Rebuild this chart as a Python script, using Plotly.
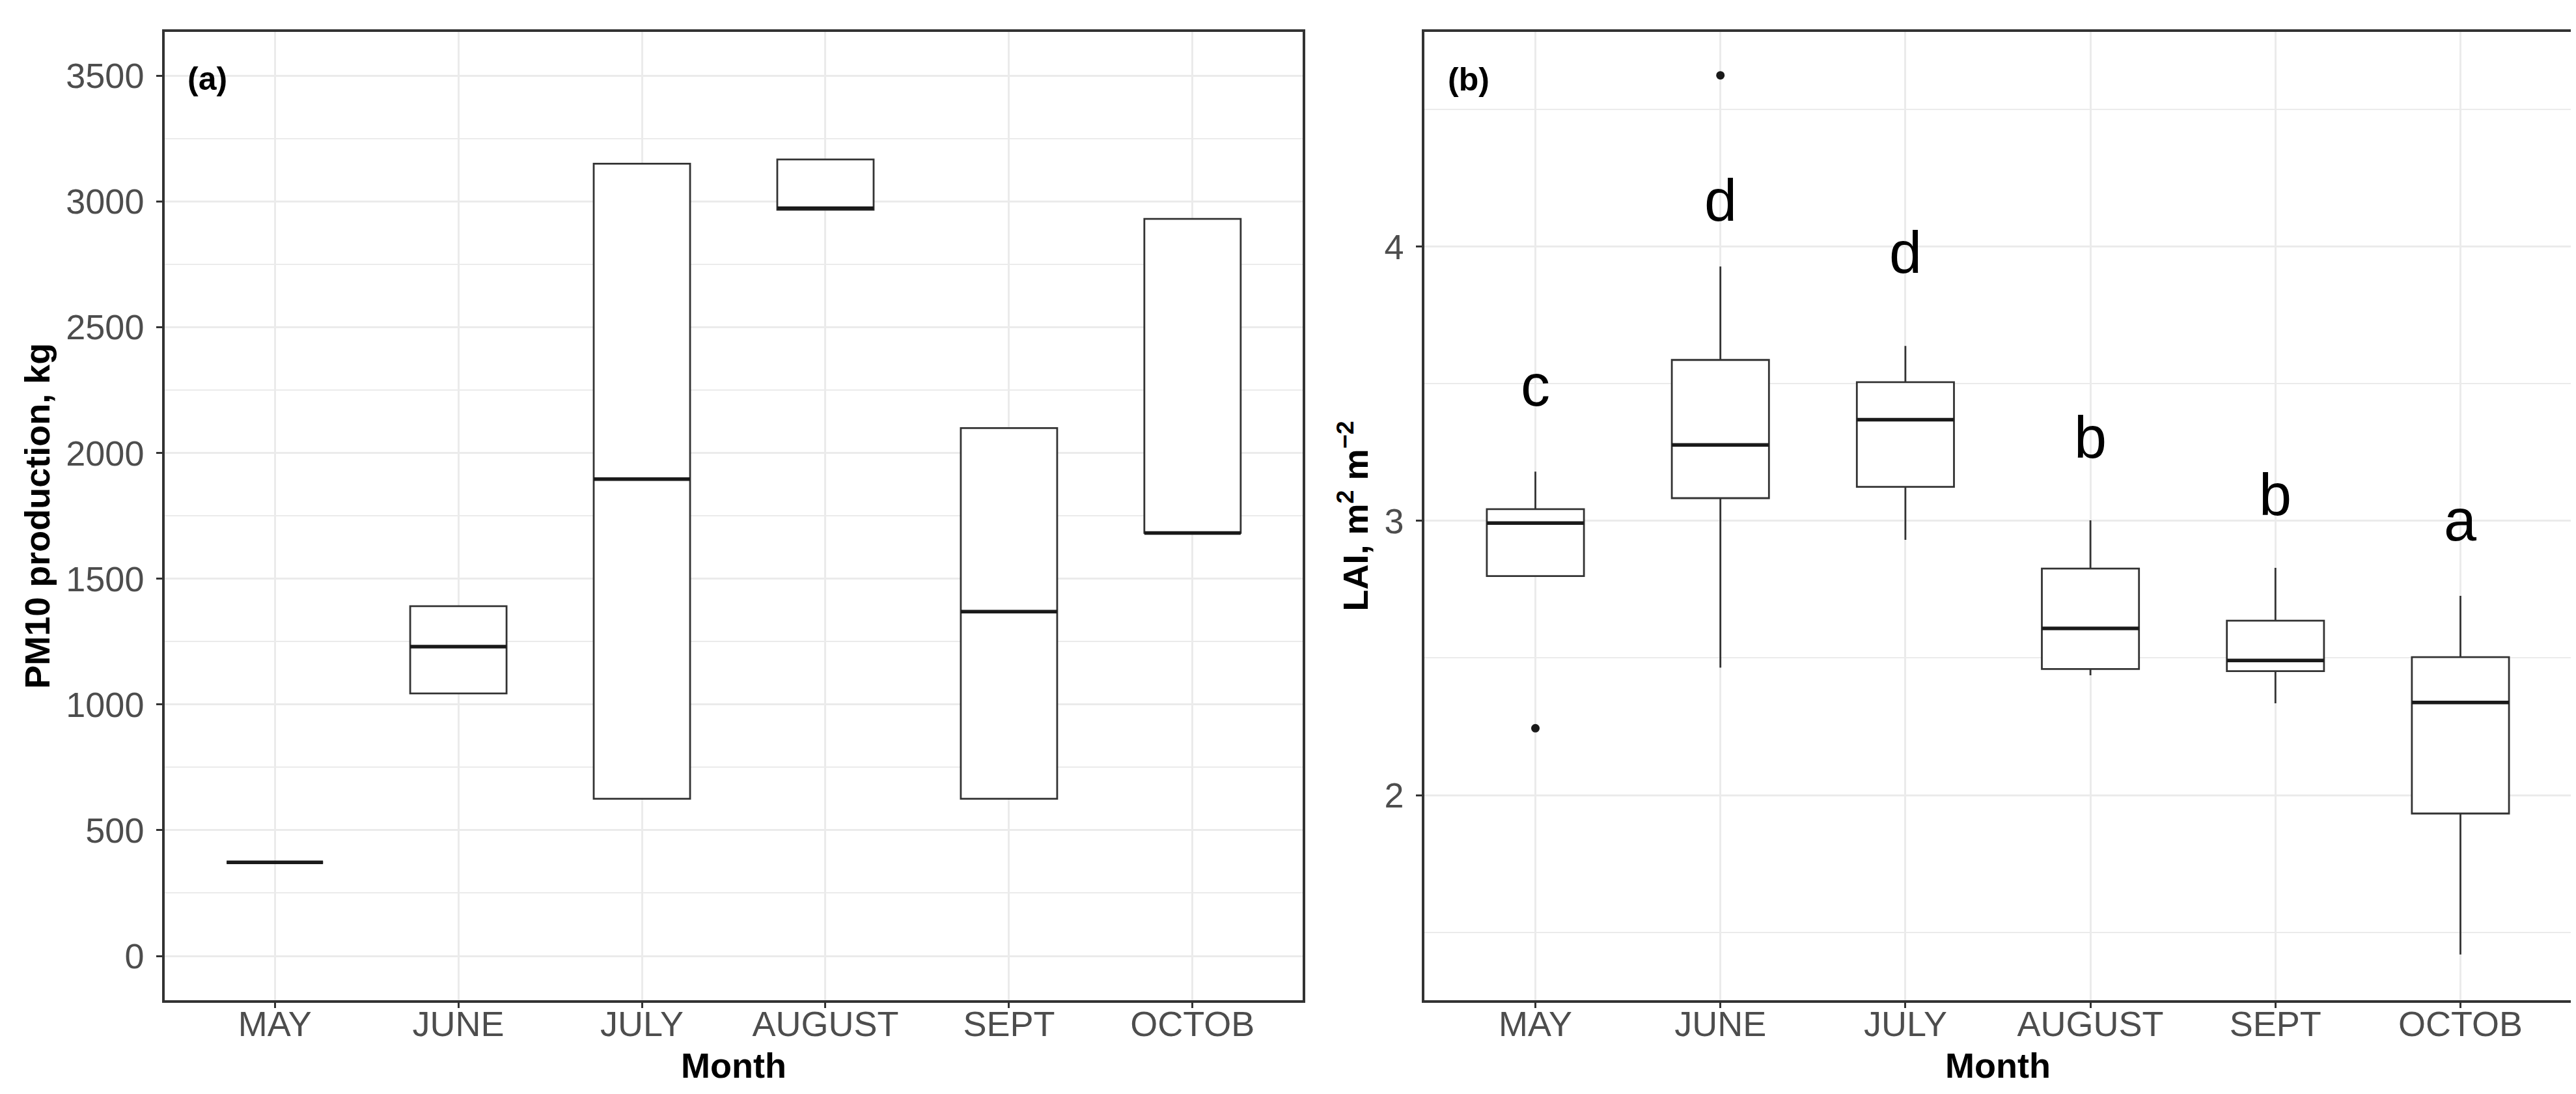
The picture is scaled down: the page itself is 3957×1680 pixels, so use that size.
import plotly.graph_objects as go

# ---------------- data ----------------
months = ["MAY", "JUNE", "JULY", "AUGUST", "SEPT", "OCTOB"]

# Panel (a): PM10 production, kg
pm_q1 = [372, 1044, 625, 2967, 625, 1682]
pm_median = [372, 1230, 1896, 2973, 1369, 1682]
pm_q3 = [372, 1391, 3150, 3167, 2099, 2931]

# Panel (b): LAI, m2 m-2
lai_low = [2.80, 2.465, 2.931, 2.437, 2.335, 1.419]
lai_q1 = [2.799, 3.083, 3.124, 2.460, 2.452, 1.933]
lai_median = [2.992, 3.277, 3.369, 2.608, 2.491, 2.338]
lai_q3 = [3.043, 3.587, 3.506, 2.826, 2.636, 2.503]
lai_high = [3.180, 3.928, 3.638, 3.002, 2.829, 2.727]

lai_outlier_month = ["MAY", "JUNE"]
lai_outlier_value = [2.244, 4.625]

letters = ["c", "d", "d", "b", "b", "a"]
letter_y = [3.404, 4.077, 3.887, 3.213, 3.004, 2.913]

# ---------------- style ----------------
W, H = 3957, 1680
FONT = "Liberation Sans, Arial, Helvetica, sans-serif"
BOX_LINE = "#333333"
MED_LINE = "#1a1a1a"
GRID = "#ebebeb"
TICKC = "#4d4d4d"

xa_dom = [245 / W, 1993 / W]
xb_dom = [2180 / W, 3942 / W]
y_dom = [1 - 1528 / H, 1 - 40.7 / H]

fig = go.Figure()

# panel (a) boxes
fig.add_trace(go.Box(
    x=months, q1=pm_q1, median=pm_median, q3=pm_q3,
    lowerfence=pm_q1, upperfence=pm_q3,
    fillcolor="white", line=dict(color=BOX_LINE, width=2.8),
    whiskerwidth=0, boxpoints=False, hoverinfo="skip",
    xaxis="x", yaxis="y", showlegend=False,
))
fig.add_trace(go.Box(
    x=months, q1=pm_median, median=pm_median, q3=pm_median,
    lowerfence=pm_median, upperfence=pm_median,
    fillcolor="rgba(0,0,0,0)", line=dict(color=MED_LINE, width=5.5),
    whiskerwidth=0, boxpoints=False, hoverinfo="skip",
    xaxis="x", yaxis="y", showlegend=False,
))

# panel (b) boxes
fig.add_trace(go.Box(
    x=months, q1=lai_q1, median=lai_median, q3=lai_q3,
    lowerfence=lai_low, upperfence=lai_high,
    fillcolor="white", line=dict(color=BOX_LINE, width=2.8),
    whiskerwidth=0, boxpoints=False, hoverinfo="skip",
    xaxis="x2", yaxis="y2", showlegend=False,
))
fig.add_trace(go.Box(
    x=months, q1=lai_median, median=lai_median, q3=lai_median,
    lowerfence=lai_median, upperfence=lai_median,
    fillcolor="rgba(0,0,0,0)", line=dict(color=MED_LINE, width=5.5),
    whiskerwidth=0, boxpoints=False, hoverinfo="skip",
    xaxis="x2", yaxis="y2", showlegend=False,
))
fig.add_trace(go.Scatter(
    x=lai_outlier_month, y=lai_outlier_value, mode="markers",
    marker=dict(color="#1a1a1a", size=13), hoverinfo="skip",
    xaxis="x2", yaxis="y2", showlegend=False,
))

annotations = []
for m, t, yv in zip(months, letters, letter_y):
    annotations.append(dict(
        x=m, y=yv, xref="x2", yref="y2", text=t, showarrow=False,
        xanchor="center", yanchor="bottom", yshift=-14,
        font=dict(family=FONT, size=90, color="black"),
    ))
annotations.append(dict(
    x=0.0374, y=0.9514, xref="x domain", yref="y domain", text="<b>(a)</b>",
    showarrow=False, xanchor="center", yanchor="middle",
    font=dict(family=FONT, size=50, color="black"),
))
annotations.append(dict(
    x=0.0386, y=0.951, xref="x2 domain", yref="y2 domain", text="<b>(b)</b>",
    showarrow=False, xanchor="center", yanchor="middle",
    font=dict(family=FONT, size=50, color="black"),
))

def xaxis(domain, anchor):
    return dict(
        domain=domain, anchor=anchor, type="category",
        categoryorder="array", categoryarray=months, range=[-0.6, 5.6],
        showgrid=True, gridcolor=GRID, gridwidth=2.5,
        showline=True, linecolor="#333333", linewidth=3.5, mirror=True,
        ticks="outside", ticklen=8, tickwidth=2.5, tickcolor="#333333",
        ticklabelstandoff=-22,
        tickfont=dict(family=FONT, size=54, color=TICKC),
        title=dict(text="<b>Month</b>", font=dict(family=FONT, size=54, color="black"), standoff=18),
        zeroline=False, fixedrange=True,
    )

def yaxis(anchor, rng, dtick, mdtick, title, standoff):
    return dict(
        domain=y_dom, anchor=anchor, range=rng, dtick=dtick, tick0=0,
        showgrid=True, gridcolor=GRID, gridwidth=2.5,
        minor=dict(dtick=mdtick, tick0=0, showgrid=True, gridcolor=GRID, gridwidth=1.8, ticks=""),
        showline=True, linecolor="#333333", linewidth=3.5, mirror=True,
        ticks="outside", ticklen=9, tickwidth=2.5, tickcolor="#333333",
        ticklabelstandoff=8,
        tickfont=dict(family=FONT, size=54, color=TICKC),
        title=dict(text=title, font=dict(family=FONT, size=54, color="black"), standoff=standoff),
        zeroline=False, fixedrange=True,
    )

fig.update_layout(
    width=W, height=H,
    margin=dict(l=0, r=0, t=0, b=0),
    paper_bgcolor="white", plot_bgcolor="white",
    boxmode="overlay", boxgap=0.25,
    xaxis=xaxis(xa_dom, "y"),
    yaxis=yaxis("x", [-176, 3675], 500, 250, "<b>PM10 production, kg</b>", 8),
    xaxis2=xaxis(xb_dom, "y2"),
    yaxis2=yaxis("x2", [1.252, 4.784], 1, 0.5, "<b>LAI, m<sup>2</sup> m<sup>\u22122</sup></b>", 8),
    annotations=annotations,
    showlegend=False,
)

fig.write_html("out.html")
